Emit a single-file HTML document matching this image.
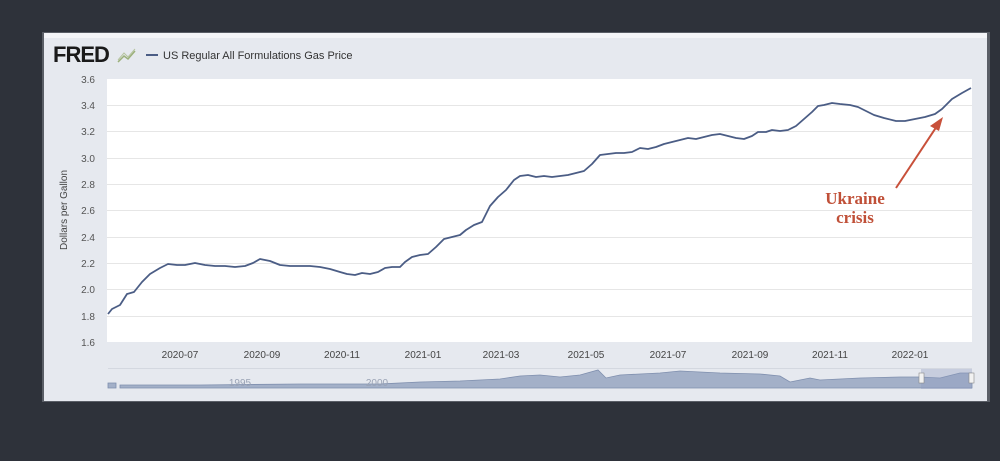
<!DOCTYPE html>
<html><head><meta charset="utf-8"><style>
body{margin:0;width:1000px;height:461px;background:#2e323a;overflow:hidden}
</style></head><body>
<svg width="1000" height="461" xmlns="http://www.w3.org/2000/svg" style="position:absolute;left:0;top:0">
<rect x="0" y="0" width="1000" height="461" fill="#2e323a"/>
<rect x="42" y="32" width="948" height="370" fill="#5a5e66"/>
<rect x="44" y="33" width="943" height="368" fill="#e6e9ef"/>
<rect x="44" y="33" width="943" height="5" fill="#f4f5f8"/>
<text x="53" y="62" font-family="Liberation Sans, sans-serif" font-weight="bold" font-size="22" fill="#1a1a1a" letter-spacing="-1">FRED</text>
<path d="M118 62 L124 56 L128 59 L135 51" stroke="#9bb07a" fill="none" stroke-width="1.5"/>
<path d="M118 60 L124 53 L128 57 L135 49" stroke="#b6c4a0" fill="none" stroke-width="1"/>
<line x1="146" y1="55" x2="158" y2="55" stroke="#4b5d85" stroke-width="2"/>
<text x="163" y="59" font-family="Liberation Sans, sans-serif" font-size="11" fill="#333">US Regular All Formulations Gas Price</text>
<rect x="107" y="79" width="865" height="263" fill="#fff"/>
<g stroke="#e6e6e6" stroke-width="1">
<line x1="107" y1="105.5" x2="972" y2="105.5"/><line x1="107" y1="131.5" x2="972" y2="131.5"/>
<line x1="107" y1="158.5" x2="972" y2="158.5"/><line x1="107" y1="184.5" x2="972" y2="184.5"/>
<line x1="107" y1="210.5" x2="972" y2="210.5"/><line x1="107" y1="237.5" x2="972" y2="237.5"/>
<line x1="107" y1="263.5" x2="972" y2="263.5"/><line x1="107" y1="289.5" x2="972" y2="289.5"/>
<line x1="107" y1="316.5" x2="972" y2="316.5"/>
</g>
<g font-family="Liberation Sans, sans-serif" font-size="10" fill="#555" text-anchor="end">
<text x="95" y="83">3.6</text><text x="95" y="109">3.4</text><text x="95" y="135">3.2</text>
<text x="95" y="162">3.0</text><text x="95" y="188">2.8</text><text x="95" y="214">2.6</text>
<text x="95" y="241">2.4</text><text x="95" y="267">2.2</text><text x="95" y="293">2.0</text>
<text x="95" y="320">1.8</text><text x="95" y="346">1.6</text>
</g>
<text transform="translate(67,210) rotate(-90)" font-family="Liberation Sans, sans-serif" font-size="10" fill="#444" text-anchor="middle">Dollars per Gallon</text>
<g font-family="Liberation Sans, sans-serif" font-size="10" fill="#444" text-anchor="middle">
<text x="180" y="358">2020-07</text><text x="262" y="358">2020-09</text><text x="342" y="358">2020-11</text>
<text x="423" y="358">2021-01</text><text x="501" y="358">2021-03</text><text x="586" y="358">2021-05</text>
<text x="668" y="358">2021-07</text><text x="750" y="358">2021-09</text><text x="830" y="358">2021-11</text>
<text x="910" y="358">2022-01</text>
</g>
<polyline fill="none" stroke="#4b5d85" stroke-width="1.8" stroke-linejoin="round" points="108,314 112,309 120,305 127,294 134,292 142,282 150,274 160,268 168,264 177,265 185,265 195,263 205,265 215,266 225,266 235,267 245,266 253,263 260,259 270,261 280,265 290,266 300,266 310,266 320,267 330,269 340,272 347,274 355,275 362,273 370,274 378,272 385,268 392,267 400,267 405,262 412,257 420,255 428,254 436,247 444,239 452,237 460,235 466,230 474,225 482,222 490,206 498,197 506,190 514,180 520,176 528,175 536,177 544,176 552,177 560,176 568,175 576,173 584,171 592,164 600,155 608,154 616,153 624,153 632,152 640,148 648,149 656,147 664,144 672,142 680,140 688,138 696,139 704,137 712,135 720,134 728,136 736,138 744,139 752,136 758,132 766,132 772,130 780,131 788,130 796,126 804,119 812,112 818,106 824,105 832,103 840,104 850,105 858,107 866,111 874,115 884,118 896,121 905,121 915,119 925,117 935,114 942,109 952,99 962,93 971,88"/>
<line x1="108" y1="368.5" x2="972" y2="368.5" stroke="#d4d8e0"/>
<path d="M108 388 L108 383 L116 383 L116 388 Z M120 388 L120 385 L200 385 L300 384 L380 384 L420 382 L460 381 L500 379 L520 376 L540 375 L560 377 L580 375 L598 370 L606 378 L620 375 L660 373 L680 371 L720 373 L760 374 L780 376 L790 382 L810 378 L820 380 L860 378 L900 377 L920 377 L940 378 L960 373 L972 373 L972 388 Z" fill="#a3b0c8" stroke="#7f8fae" stroke-width="0.8"/>
<rect x="921" y="369" width="51" height="20" fill="#8d9cc0" opacity="0.35"/>
<rect x="919" y="373" width="5" height="10" fill="#f2f2f2" stroke="#888" stroke-width="0.6"/>
<rect x="969" y="373" width="5" height="10" fill="#f2f2f2" stroke="#888" stroke-width="0.6"/>
<g font-family="Liberation Sans, sans-serif" font-size="10" fill="#9aa3b5" text-anchor="middle">
<text x="240" y="386">1995</text><text x="377" y="386">2000</text>
</g>
<line x1="896" y1="188" x2="937" y2="126" stroke="#c8503a" stroke-width="2"/>
<polygon points="943,117 930,126 939,131" fill="#c8503a"/>
<g font-family="Liberation Serif, serif" font-weight="bold" font-size="17" fill="#c05038" text-anchor="middle">
<text x="855" y="204">Ukraine</text><text x="855" y="223">crisis</text>
</g>
</svg>
</body></html>
